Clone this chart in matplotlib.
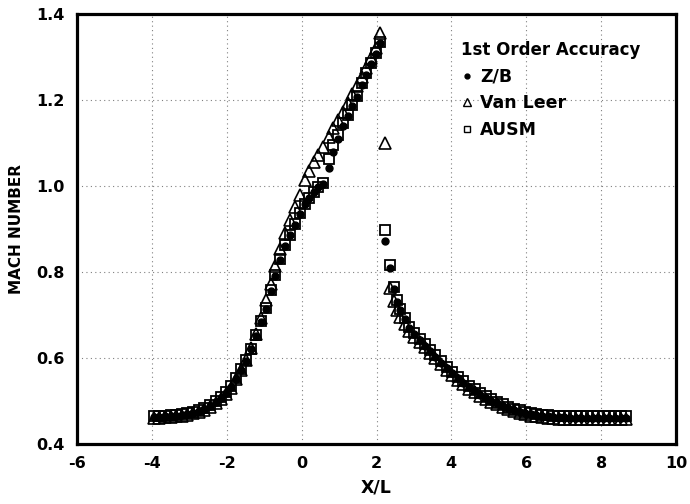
import numpy as np
import matplotlib.pyplot as plt
from matplotlib.lines import Line2D

# grid points along the nozzle (X/L)
x_grid = [-3.95, -3.80, -3.65, -3.50, -3.35, -3.20, -3.05, -2.90, -2.75, -2.60,
          -2.45, -2.30, -2.16, -2.02, -1.88, -1.74, -1.61, -1.48, -1.35, -1.22,
          -1.09, -0.96, -0.83, -0.70, -0.57, -0.44, -0.31, -0.18, -0.05,
          0.09, 0.20, 0.32, 0.45, 0.58, 0.72, 0.85, 0.98, 1.11, 1.23,
          1.35, 1.47, 1.60, 1.73, 1.86, 1.98, 2.10,
          2.23, 2.36, 2.46, 2.55, 2.64, 2.75, 2.88, 3.01, 3.15, 3.29,
          3.43, 3.57, 3.72, 3.87, 4.02, 4.17, 4.32, 4.47, 4.62, 4.77,
          4.92, 5.07, 5.22, 5.37, 5.52, 5.67, 5.82, 5.97, 6.12, 6.27,
          6.42, 6.57, 6.72, 6.87, 7.02, 7.17, 7.32, 7.47, 7.62, 7.77,
          7.92, 8.07, 8.22, 8.37, 8.52, 8.67]

# Mach number, Z/B scheme
mach_zb = [0.462, 0.463, 0.464, 0.465, 0.466, 0.468, 0.470, 0.473, 0.477, 0.482,
           0.489, 0.497, 0.507, 0.519, 0.533, 0.551, 0.572, 0.594, 0.620, 0.652,
           0.683, 0.715, 0.755, 0.790, 0.828, 0.861, 0.886, 0.910, 0.936,
           0.957, 0.971, 0.986, 0.997, 1.005, 1.041, 1.080, 1.110, 1.140, 1.163,
           1.186, 1.207, 1.236, 1.259, 1.283, 1.307, 1.332,
           0.873, 0.810, 0.760, 0.730, 0.711, 0.690, 0.670, 0.655, 0.642, 0.629,
           0.616, 0.603, 0.589, 0.576, 0.564, 0.553, 0.543, 0.533, 0.524, 0.515,
           0.508, 0.501, 0.495, 0.489, 0.484, 0.479, 0.475, 0.472, 0.469, 0.467,
           0.465, 0.464, 0.463, 0.462, 0.462, 0.461, 0.461, 0.461, 0.461, 0.461,
           0.461, 0.461, 0.461, 0.461, 0.461, 0.461]

# Mach number, Van Leer scheme
mach_vl = [0.460, 0.461, 0.462, 0.463, 0.464, 0.466, 0.468, 0.471, 0.475, 0.480,
           0.487, 0.495, 0.505, 0.517, 0.531, 0.550, 0.571, 0.595, 0.623, 0.656,
           0.693, 0.735, 0.772, 0.815, 0.853, 0.890, 0.921, 0.952, 0.980,
           1.015, 1.036, 1.055, 1.073, 1.091, 1.113, 1.134, 1.153, 1.173, 1.193,
           1.213, 1.233, 1.254, 1.275, 1.297, 1.320, 1.356,
           1.099, 0.762, 0.733, 0.712, 0.695, 0.678, 0.663, 0.649, 0.637, 0.625,
           0.612, 0.599, 0.585, 0.572, 0.560, 0.549, 0.539, 0.529, 0.520, 0.512,
           0.505, 0.498, 0.492, 0.486, 0.481, 0.476, 0.472, 0.469, 0.466, 0.464,
           0.462, 0.461, 0.460, 0.459, 0.459, 0.458, 0.458, 0.458, 0.458, 0.458,
           0.458, 0.458, 0.458, 0.458, 0.458, 0.458]

# Mach number, AUSM scheme
mach_ausm = [0.464, 0.465, 0.466, 0.467, 0.468, 0.470, 0.472, 0.475, 0.479, 0.484,
             0.491, 0.499, 0.509, 0.521, 0.535, 0.553, 0.574, 0.596, 0.622, 0.654,
             0.685, 0.717, 0.757, 0.792, 0.830, 0.862, 0.887, 0.911, 0.937,
             0.958, 0.972, 0.987, 0.998, 1.006, 1.063, 1.095, 1.119, 1.146, 1.166,
             1.189, 1.210, 1.239, 1.262, 1.286, 1.310, 1.336,
             0.898, 0.816, 0.764, 0.734, 0.714, 0.693, 0.673, 0.658, 0.645, 0.632,
             0.619, 0.606, 0.592, 0.579, 0.567, 0.556, 0.546, 0.536, 0.527, 0.518,
             0.511, 0.504, 0.498, 0.492, 0.487, 0.482, 0.478, 0.475, 0.472, 0.470,
             0.468, 0.467, 0.466, 0.466, 0.466, 0.466, 0.466, 0.466, 0.466, 0.466,
             0.466, 0.466, 0.466, 0.466, 0.466, 0.466]

x_ticks = [-6, -4, -2, 0, 2, 4, 6, 8, 10]
y_ticks = [0.4, 0.6, 0.8, 1.0, 1.2, 1.4]

plt.rcParams['font.family'] = ['DejaVu Sans']
plt.rcParams['font.weight'] = 'bold'

fig = plt.figure(figsize=(6.9, 5.04), dpi=100)
ax = fig.add_axes([77 / 690, 1 - 444 / 504, 599 / 690, 430 / 504])

ax.plot(x_grid, mach_vl, ls='none', marker='^', ms=8, mfc='none', mec='black', mew=1.2)
ax.plot(x_grid, mach_ausm, ls='none', marker='s', ms=6.5, mfc='none', mec='black', mew=1.3)
ax.plot(x_grid, mach_zb, ls='none', marker='o', ms=5, mfc='black', mec='black')

ax.set_xlim(-6, 10)
ax.set_ylim(0.4, 1.4)
ax.set_xticks(x_ticks)
ax.set_yticks(y_ticks)
ax.set_xticklabels([str(v) for v in x_ticks], fontsize=11.5)
ax.set_yticklabels(['%.1f' % v for v in y_ticks], fontsize=11.5)
ax.tick_params(length=0, pad=9)

ax.grid(True, color='0.5', linestyle=(0, (1, 3)), linewidth=0.8)
for s in ax.spines.values():
    s.set_linewidth(2.3)

ax.set_xlabel('X/L', fontsize=12.5, fontweight='bold', labelpad=5)
ax.set_ylabel('MACH NUMBER', fontsize=11, fontweight='bold', labelpad=9)

handles = [Line2D([], [], ls='none', marker='o', ms=3.5, mfc='black', mec='black'),
           Line2D([], [], ls='none', marker='^', ms=6, mfc='none', mec='black', mew=1),
           Line2D([], [], ls='none', marker='s', ms=5, mfc='none', mec='black', mew=1)]
leg = ax.legend(handles, ['Z/B', 'Van Leer', 'AUSM'], title='1st Order Accuracy',
                loc='upper left', bbox_to_anchor=(461 / 690, 1 - 41 / 504),
                bbox_transform=fig.transFigure, frameon=False, fontsize=12.5,
                title_fontsize=12, alignment='left', handlelength=0.7,
                handletextpad=0.4, labelspacing=0.5, borderpad=0, borderaxespad=0)
leg.get_title().set_fontweight('bold')

fig.savefig('out.png')
